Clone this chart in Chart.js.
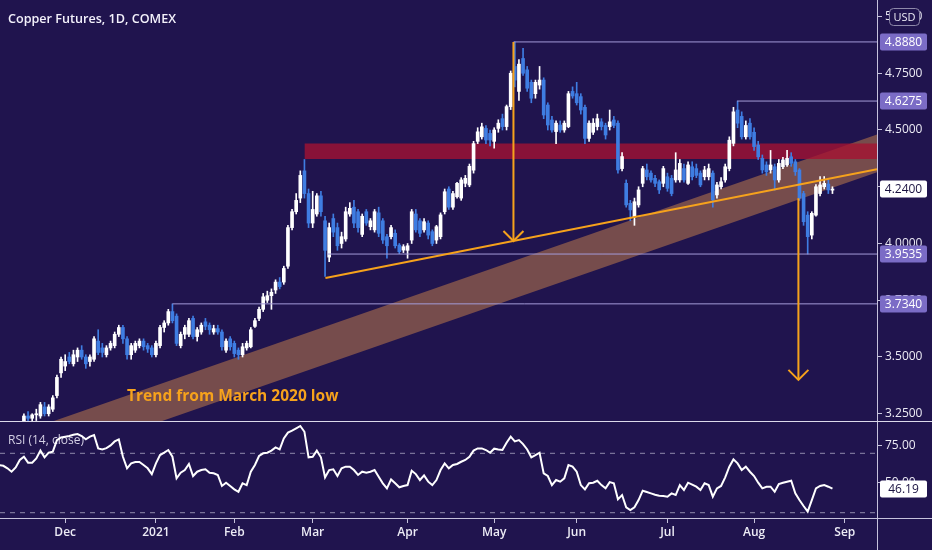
<!DOCTYPE html>
<html>
<head>
<meta charset="utf-8">
<title>Copper Futures, 1D, COMEX</title>
<script src="https://cdn.jsdelivr.net/npm/chart.js@4.4.1/dist/chart.umd.min.js"></script>
<style>
    html, body { margin: 0; padding: 0; background: #20144e; }
    #wrap { position: relative; width: 932px; height: 550px; overflow: hidden; background: #20144e; }
    canvas { position: absolute; left: 0; }
    #price { top: 0; }
    #rsi { top: 421px; }
</style>
</head>
<body>
<div id="wrap">
    <canvas id="price" width="932" height="421"></canvas>
    <canvas id="rsi" width="932" height="129"></canvas>
</div>
<script>
// ---- data ----------------------------------------------------------------

// COMEX holidays in the window (no bar on these days)
const holidays = ['2020-11-26', '2020-12-25', '2021-01-01', '2021-01-18',
    '2021-02-15', '2021-04-02', '2021-05-31', '2021-07-05'];
const monthNames = ['Jan', 'Feb', 'Mar', 'Apr', 'May', 'Jun', 'Jul', 'Aug', 'Sep', 'Oct', 'Nov', 'Dec'];

// daily bars, [open, high, low, close], first bar 2020-11-06
const ohlc = [
    // Nov 2020
    [3.13, 3.17, 3.11, 3.16], [3.16, 3.20, 3.14, 3.18], [3.18, 3.19, 3.13, 3.15], [3.15, 3.19, 3.14, 3.17],
    [3.17, 3.18, 3.12, 3.14], [3.14, 3.21, 3.13, 3.20], [3.20, 3.25, 3.19, 3.24], [3.24, 3.26, 3.21, 3.23],
    [3.23, 3.25, 3.21, 3.245], [3.245, 3.27, 3.22, 3.25], [3.24, 3.30, 3.23, 3.29], [3.28, 3.30, 3.24, 3.25],
    [3.25, 3.29, 3.24, 3.28], [3.27, 3.33, 3.26, 3.32], [3.33, 3.42, 3.32, 3.41], [3.43, 3.50, 3.41, 3.49],
    // Dec
    [3.46, 3.51, 3.44, 3.48], [3.50, 3.52, 3.47, 3.48], [3.47, 3.53, 3.46, 3.51], [3.50, 3.54, 3.48, 3.53],
    [3.53, 3.55, 3.49, 3.50], [3.50, 3.51, 3.45, 3.47], [3.48, 3.51, 3.46, 3.50], [3.49, 3.59, 3.48, 3.58],
    [3.57, 3.62, 3.51, 3.52], [3.54, 3.56, 3.50, 3.52], [3.51, 3.55, 3.50, 3.54], [3.54, 3.57, 3.53, 3.56],
    [3.55, 3.61, 3.54, 3.60], [3.60, 3.64, 3.59, 3.63], [3.63, 3.64, 3.56, 3.58], [3.58, 3.59, 3.49, 3.51],
    [3.51, 3.56, 3.49, 3.55], [3.53, 3.57, 3.52, 3.56], [3.55, 3.58, 3.54, 3.57], [3.57, 3.58, 3.53, 3.545],
    [3.55, 3.56, 3.52, 3.535], [3.54, 3.55, 3.50, 3.51],
    // Jan 2021
    [3.51, 3.57, 3.50, 3.56], [3.55, 3.64, 3.54, 3.63], [3.63, 3.66, 3.61, 3.65], [3.65, 3.71, 3.64, 3.70],
    [3.70, 3.734, 3.65, 3.66], [3.68, 3.69, 3.55, 3.56], [3.55, 3.61, 3.54, 3.60], [3.60, 3.64, 3.58, 3.63],
    [3.60, 3.67, 3.59, 3.66], [3.67, 3.68, 3.58, 3.59], [3.59, 3.63, 3.57, 3.62], [3.61, 3.65, 3.60, 3.64],
    [3.655, 3.67, 3.62, 3.635], [3.64, 3.65, 3.60, 3.62], [3.61, 3.64, 3.60, 3.625], [3.625, 3.64, 3.60, 3.61],
    [3.61, 3.62, 3.53, 3.545], [3.53, 3.58, 3.52, 3.57], [3.58, 3.59, 3.53, 3.545],
    // Feb
    [3.56, 3.57, 3.50, 3.515], [3.53, 3.54, 3.49, 3.51], [3.51, 3.56, 3.50, 3.545], [3.54, 3.57, 3.53, 3.56],
    [3.545, 3.63, 3.54, 3.62], [3.635, 3.67, 3.63, 3.66], [3.67, 3.72, 3.66, 3.71], [3.71, 3.78, 3.70, 3.765],
    [3.75, 3.79, 3.74, 3.77], [3.77, 3.80, 3.71, 3.785], [3.795, 3.84, 3.78, 3.83], [3.83, 3.85, 3.80, 3.81],
    [3.83, 3.90, 3.82, 3.89], [3.90, 4.08, 3.89, 4.07], [4.07, 4.15, 4.06, 4.14], [4.14, 4.22, 4.13, 4.19],
    [4.20, 4.32, 4.18, 4.30], [4.32, 4.37, 4.20, 4.22], [4.22, 4.24, 4.07, 4.09],
    // Mar
    [4.09, 4.23, 4.07, 4.15], [4.13, 4.22, 4.12, 4.21], [4.21, 4.23, 4.12, 4.14], [4.10, 4.12, 3.855, 3.97],
    [3.94, 4.09, 3.92, 4.07], [4.11, 4.13, 4.03, 4.05], [4.07, 4.09, 3.97, 3.99], [4.00, 4.05, 3.98, 4.03],
    [4.02, 4.16, 4.01, 4.14], [4.13, 4.18, 4.12, 4.155], [4.16, 4.19, 4.07, 4.09], [4.14, 4.15, 4.05, 4.07],
    [4.04, 4.13, 4.03, 4.12], [4.14, 4.15, 4.08, 4.09], [4.074, 4.11, 4.06, 4.10], [4.06, 4.15, 4.05, 4.14],
    [4.135, 4.16, 4.03, 4.045], [4.10, 4.11, 4.00, 4.015], [4.03, 4.04, 3.935, 3.99], [4.03, 4.08, 4.02, 4.07],
    [4.045, 4.06, 3.98, 3.99], [3.993, 4.00, 3.955, 3.964], [3.971, 3.995, 3.96, 3.986],
    // Apr
    [3.97, 4.00, 3.935, 3.99], [4.015, 4.15, 4.00, 4.14], [4.13, 4.15, 4.05, 4.06], [4.10, 4.11, 4.03, 4.045],
    [4.06, 4.11, 4.05, 4.096], [4.09, 4.10, 4.02, 4.037], [4.052, 4.06, 3.99, 4.00], [4.015, 4.08, 4.00, 4.074],
    [4.03, 4.135, 4.02, 4.126], [4.14, 4.24, 4.13, 4.228], [4.24, 4.25, 4.15, 4.16], [4.16, 4.23, 4.15, 4.22],
    [4.206, 4.27, 4.20, 4.265], [4.20, 4.29, 4.19, 4.28], [4.265, 4.30, 4.25, 4.287], [4.258, 4.35, 4.25, 4.34],
    [4.323, 4.45, 4.31, 4.44], [4.45, 4.51, 4.44, 4.492], [4.47, 4.53, 4.46, 4.514], [4.507, 4.52, 4.44, 4.456],
    [4.485, 4.50, 4.43, 4.456],
    // May
    [4.45, 4.51, 4.42, 4.50], [4.507, 4.545, 4.49, 4.53], [4.55, 4.57, 4.50, 4.515], [4.515, 4.61, 4.50, 4.603],
    [4.603, 4.76, 4.59, 4.75], [4.78, 4.888, 4.69, 4.72], [4.67, 4.81, 4.63, 4.79], [4.815, 4.86, 4.74, 4.75],
    [4.765, 4.78, 4.67, 4.684], [4.71, 4.72, 4.62, 4.64], [4.66, 4.72, 4.64, 4.71], [4.698, 4.78, 4.68, 4.72],
    [4.72, 4.73, 4.55, 4.566], [4.61, 4.62, 4.50, 4.522], [4.544, 4.56, 4.49, 4.50], [4.493, 4.54, 4.44, 4.53],
    [4.522, 4.54, 4.49, 4.50], [4.50, 4.54, 4.49, 4.53], [4.515, 4.67, 4.51, 4.66], [4.67, 4.69, 4.64, 4.65],
    // Jun
    [4.66, 4.71, 4.61, 4.62], [4.647, 4.66, 4.57, 4.588], [4.60, 4.61, 4.44, 4.463], [4.463, 4.54, 4.45, 4.53],
    [4.49, 4.55, 4.48, 4.53], [4.515, 4.57, 4.50, 4.55], [4.536, 4.55, 4.50, 4.515], [4.52, 4.53, 4.46, 4.478],
    [4.515, 4.588, 4.50, 4.536], [4.544, 4.56, 4.51, 4.52], [4.53, 4.54, 4.31, 4.324], [4.33, 4.40, 4.32, 4.383],
    [4.265, 4.28, 4.16, 4.17], [4.177, 4.19, 4.10, 4.148], [4.118, 4.20, 4.08, 4.184], [4.17, 4.25, 4.16, 4.236],
    [4.265, 4.34, 4.25, 4.33], [4.324, 4.35, 4.28, 4.294], [4.31, 4.32, 4.27, 4.28], [4.287, 4.30, 4.25, 4.265],
    [4.272, 4.28, 4.22, 4.236], [4.265, 4.34, 4.25, 4.33],
    // Jul
    [4.294, 4.31, 4.23, 4.243], [4.287, 4.30, 4.21, 4.22], [4.28, 4.40, 4.27, 4.324], [4.28, 4.37, 4.27, 4.353],
    [4.33, 4.35, 4.27, 4.28], [4.265, 4.36, 4.26, 4.346], [4.338, 4.36, 4.28, 4.294], [4.33, 4.35, 4.29, 4.30],
    [4.31, 4.32, 4.25, 4.258], [4.294, 4.34, 4.28, 4.324], [4.294, 4.35, 4.28, 4.33], [4.31, 4.32, 4.16, 4.192],
    [4.214, 4.27, 4.20, 4.258], [4.25, 4.29, 4.24, 4.272], [4.28, 4.35, 4.27, 4.338], [4.33, 4.47, 4.32, 4.455],
    [4.441, 4.60, 4.43, 4.58], [4.588, 4.6275, 4.51, 4.53], [4.56, 4.58, 4.46, 4.47], [4.47, 4.54, 4.46, 4.52],
    [4.53, 4.55, 4.46, 4.47],
    // Aug
    [4.49, 4.51, 4.41, 4.427], [4.434, 4.45, 4.37, 4.382], [4.375, 4.39, 4.31, 4.324], [4.346, 4.36, 4.30, 4.316],
    [4.324, 4.41, 4.31, 4.346], [4.338, 4.35, 4.235, 4.28], [4.28, 4.37, 4.27, 4.353], [4.338, 4.38, 4.33, 4.368],
    [4.346, 4.41, 4.34, 4.375], [4.382, 4.40, 4.34, 4.353], [4.36, 4.37, 4.30, 4.316], [4.324, 4.33, 4.19, 4.20],
    [4.22, 4.23, 4.08, 4.096], [4.125, 4.14, 3.9535, 4.03], [4.037, 4.14, 4.02, 4.133], [4.125, 4.26, 4.12, 4.25],
    [4.22, 4.295, 4.21, 4.258], [4.25, 4.295, 4.24, 4.265], [4.262, 4.28, 4.22, 4.236], [4.235, 4.25, 4.22, 4.24]
];

// RSI(14, close), one value per bar
const rsi14 = [
    62.1, 61.6, 59.9, 57.6, 60.5, 65.5, 67.7, 63.7, 63.7, 66.6, 71.8, 67.3, 70.4, 71.1, 78.9, 80.7,
    81.2, 81.6, 82.5, 83.0, 81.6, 79.4, 81.2, 82.3, 73.3, 72.6, 73.5, 75.3, 78.0, 79.4, 67.7, 59.9,
    63.2, 64.1, 64.1, 62.1, 59.9, 56.0,
    63.2, 68.8, 70.4, 72.2, 67.7, 53.1, 56.9, 58.7, 62.8, 54.7, 57.6, 58.7, 59.2, 56.9, 56.5, 55.4,
    48.0, 50.2, 48.0,
    45.7, 44.1, 49.8, 48.6, 57.6, 62.1, 68.2, 70.0, 70.4, 71.8, 74.0, 72.6, 80.0, 83.9, 85.2, 86.8,
    88.4, 84.5, 67.3,
    67.7, 71.8, 67.3, 53.8, 58.7, 59.2, 54.7, 59.9, 61.0, 61.0, 58.7, 55.4, 57.6, 56.9, 57.6, 58.7,
    54.2, 49.8, 46.4, 52.4, 49.8, 47.1, 48.0,
    48.6, 58.3, 56.0, 52.0, 55.1, 50.9, 48.6, 52.0, 58.7, 63.2, 59.9, 62.1, 62.8, 64.3, 65.5, 67.7,
    71.8, 73.3, 73.3, 72.2, 70.4,
    73.1, 72.6, 72.2, 77.1, 81.2, 78.0, 78.9, 76.2, 72.6, 67.3, 68.8, 70.4, 56.5, 54.7, 48.6, 52.0,
    50.9, 53.1, 62.1, 61.0,
    57.6, 48.6, 45.7, 49.8, 50.2, 51.5, 48.6, 46.4, 50.6, 49.8, 39.0, 41.9, 33.6, 31.8, 33.6, 38.5,
    44.8, 43.9, 43.0, 42.1, 41.4, 41.2,
    40.8, 43.0, 41.9, 48.6, 45.3, 50.2, 48.9, 47.5, 45.3, 49.8, 48.6, 40.8, 46.4, 48.0, 53.8, 61.0,
    65.9, 63.2, 58.7, 61.0, 57.6,
    54.7, 50.2, 46.4, 47.5, 47.5, 44.1, 49.3, 50.2, 50.9, 51.5, 43.0, 38.5, 34.5, 30.7, 38.5, 46.4,
    48.0, 48.6, 47.5, 46.19
];

// price axis ticks and RSI axis ticks
const priceTicks = [3.25, 3.5, 3.75, 4.0, 4.25, 4.5, 4.75, 5.0];
const rsiTicks = [50, 75];
const rsiBands = [70, 30];

// drawings: horizontal levels (value, bar where the ray starts)
const levelValues = [4.888, 4.6275, 3.9535, 3.734];
const levelFrom = [124.7, 178.9, 79.5, 42];

// rising support from the March low
const trendX = [79.1, 212.8];
const trendY = [3.848, 4.327];

// long-term channel "Trend from March 2020 low"
const bandX = [0, 212.8];
const bandUpper = [3.134, 4.480];
const bandLower = [2.968, 4.314];

// resistance zone
const zoneX = [74, 212.8];
const zoneTop = 4.441;
const zoneBottom = 4.372;

// measured-move arrows
const arrowX = [124.67, 193.75];
const arrowFrom = [4.888, 4.199];
const arrowTo = [4.011, 3.399];

// ---- calendar ------------------------------------------------------------

const tradingDays = [];
for (let t = Date.UTC(2020, 10, 6); t <= Date.UTC(2021, 8, 3); t += 86400000) {
    const d = new Date(t);
    const iso = d.toISOString().slice(0, 10);
    const wd = d.getUTCDay();
    if (wd !== 0 && wd !== 6 && !holidays.includes(iso)) tradingDays.push(iso);
}

const monthTicks = [];
tradingDays.forEach((iso, i) => {
    if (i > 0 && iso.slice(5, 7) !== tradingDays[i - 1].slice(5, 7)) {
        const m = +iso.slice(5, 7) - 1;
        monthTicks.push({ value: i, label: m === 0 ? iso.slice(0, 4) : monthNames[m] });
    }
});

// ---- style ---------------------------------------------------------------

const BG = '#20144e';
const AXIS = '#c6c2dc';
const TEXT = '#ecebf5';
const UP = '#ffffff';
const DOWN = '#3f7de2';
const ORANGE = '#f6a21c';
const LEVEL = '#a49bd8';
const LEVEL_BOX = '#7b6cc6';
const FONT = "'Open Sans', sans-serif";
const X_MIN = 0.2;
const X_MAX = 212.8;
const AXIS_W = 55;

Chart.defaults.font.family = FONT;
Chart.defaults.color = TEXT;

const seg = (x0, y0, x1, y1) => [{ x: x0, y: y0 }, { x: x1, y: y1 }];
const candleColor = ctx => {
    const c = ohlc[ctx.dataIndex];
    return c && c[3] >= c[0] ? UP : DOWN;
};
const lineSet = (data, color, width, order, extra) => Object.assign({
    type: 'line', data, borderColor: color, borderWidth: width,
    pointRadius: 0, fill: false, tension: 0, order
}, extra || {});

function roundBox(ctx, x, y, w, h, r) {
    ctx.beginPath();
    ctx.moveTo(x + r, y);
    ctx.lineTo(x + w - r, y);
    ctx.quadraticCurveTo(x + w, y, x + w, y + r);
    ctx.lineTo(x + w, y + h - r);
    ctx.quadraticCurveTo(x + w, y + h, x + w - r, y + h);
    ctx.lineTo(x + r, y + h);
    ctx.quadraticCurveTo(x, y + h, x, y + h - r);
    ctx.lineTo(x, y + r);
    ctx.quadraticCurveTo(x, y, x + r, y);
    ctx.closePath();
}

function axisLabel(chart, value, text, bg, fg) {
    const ctx = chart.ctx;
    const yScale = chart.scales.y;
    const yc = Math.round(yScale.getPixelForValue(value));
    const x0 = chart.chartArea.right + 3;
    ctx.save();
    ctx.fillStyle = bg;
    roundBox(ctx, x0, yc - 8.5, 47, 17, 2);
    ctx.fill();
    ctx.fillStyle = fg;
    ctx.font = '12px ' + FONT;
    ctx.textAlign = 'center';
    ctx.textBaseline = 'middle';
    ctx.fillText(text, x0 + 23.5, yc + 0.5);
    ctx.restore();
}

const background = {
    id: 'background',
    beforeDraw(chart) {
        const ctx = chart.ctx;
        ctx.save();
        ctx.fillStyle = BG;
        ctx.fillRect(0, 0, chart.width, chart.height);
        ctx.restore();
    }
};

// ---- price pane ----------------------------------------------------------

const pricePlugin = {
    id: 'priceExtras',
    afterDatasetsDraw(chart) {
        const { ctx, scales: { x, y } } = chart;
        ctx.save();
        // arrow heads
        ctx.strokeStyle = ORANGE;
        ctx.lineWidth = 2;
        arrowX.forEach((xv, k) => {
            const px = x.getPixelForValue(xv);
            const py = y.getPixelForValue(arrowTo[k]);
            ctx.beginPath();
            ctx.moveTo(px - 10, py - 10);
            ctx.lineTo(px, py);
            ctx.lineTo(px + 10, py - 10);
            ctx.stroke();
        });
        // channel caption
        ctx.fillStyle = ORANGE;
        ctx.font = 'bold 15.5px ' + FONT;
        ctx.textBaseline = 'middle';
        ctx.fillText('Trend from March 2020 low', x.getPixelForValue(31), y.getPixelForValue(3.326));
        // title
        ctx.fillStyle = '#f3f1fb';
        ctx.font = '600 12.6px ' + FONT;
        ctx.fillText('Copper Futures, 1D, COMEX', 8, 19);
        ctx.restore();
    },
    afterDraw(chart) {
        const ctx = chart.ctx;
        levelValues.forEach(v => axisLabel(chart, v, v.toFixed(4), LEVEL_BOX, '#ffffff'));
        const last = ohlc[ohlc.length - 1][3];
        axisLabel(chart, last, last.toFixed(4), '#ffffff', '#1a1240');
        // currency badge
        ctx.save();
        ctx.fillStyle = BG;
        ctx.strokeStyle = '#8e89aa';
        ctx.lineWidth = 1;
        roundBox(ctx, 889.5, 8.5, 30, 17, 4);
        ctx.fill();
        ctx.stroke();
        ctx.fillStyle = TEXT;
        ctx.font = '11px ' + FONT;
        ctx.textAlign = 'center';
        ctx.textBaseline = 'middle';
        ctx.fillText('USD', 904.5, 17.5);
        ctx.restore();
    }
};

new Chart(document.getElementById('price'), {
    type: 'bar',
    data: {
        datasets: [
            lineSet(seg(bandX[0], bandUpper[0], bandX[1], bandUpper[1]), 'rgba(0,0,0,0)', 0, 60),
            lineSet(seg(bandX[0], bandLower[0], bandX[1], bandLower[1]), 'rgba(0,0,0,0)', 0, 60,
                { fill: '-1', backgroundColor: 'rgba(190, 122, 74, 0.55)' }),
            lineSet(seg(zoneX[0], zoneTop, zoneX[1], zoneTop), 'rgba(0,0,0,0)', 0, 50),
            lineSet(seg(zoneX[0], zoneBottom, zoneX[1], zoneBottom), 'rgba(0,0,0,0)', 0, 50,
                { fill: '-1', backgroundColor: 'rgba(165, 18, 50, 0.78)' }),
            {
                type: 'bar', label: 'wicks', order: 30, grouped: false, barThickness: 1,
                data: ohlc.map((c, i) => ({ x: i, y: [c[2], c[1]] })),
                backgroundColor: candleColor
            },
            {
                type: 'bar', label: 'bodies', order: 29, grouped: false, barThickness: 3, minBarLength: 1,
                data: ohlc.map((c, i) => ({ x: i, y: [c[0], c[3]] })),
                backgroundColor: candleColor
            },
            ...levelValues.map((v, k) => lineSet(seg(levelFrom[k], v, X_MAX, v), LEVEL, 1, 20)),
            lineSet(seg(trendX[0], trendY[0], trendX[1], trendY[1]), ORANGE, 2, 10),
            ...arrowX.map((xv, k) => lineSet(seg(xv, arrowFrom[k], xv, arrowTo[k]), ORANGE, 2, 5))
        ]
    },
    options: {
        responsive: false,
        animation: false,
        events: [],
        layout: { padding: 0 },
        plugins: { legend: { display: false }, tooltip: { enabled: false } },
        scales: {
            x: { type: 'linear', min: X_MIN, max: X_MAX, offset: false, display: false },
            y: {
                type: 'linear', position: 'right', min: 3.218, max: 5.0727,
                afterBuildTicks: s => { s.ticks = priceTicks.map(v => ({ value: v })); },
                afterFit: s => { s.width = AXIS_W; s.paddingTop = 0; s.paddingBottom = 0; },
                ticks: { color: TEXT, font: { size: 12 }, padding: 3, autoSkip: false, callback: v => v.toFixed(4) },
                grid: { drawOnChartArea: false, drawTicks: true, tickLength: 5, color: AXIS },
                border: { display: true, color: AXIS }
            }
        }
    },
    plugins: [background, pricePlugin]
});

// ---- RSI pane ------------------------------------------------------------

const rsiPlugin = {
    id: 'rsiExtras',
    beforeDatasetsDraw(chart) {
        const ctx = chart.ctx;
        ctx.save();
        ctx.fillStyle = '#d3cfe4';
        ctx.font = '12px ' + FONT;
        ctx.textBaseline = 'middle';
        ctx.fillText('RSI (14, close)', 8, 20);
        ctx.restore();
    },
    afterDraw(chart) {
        const { ctx, chartArea } = chart;
        ctx.save();
        ctx.fillStyle = '#dcd9ea';
        ctx.fillRect(0, 0, chart.width, 1);
        ctx.fillStyle = AXIS;
        ctx.fillRect(chartArea.right, chartArea.bottom, chart.width - chartArea.right, 1);
        ctx.fillRect(chartArea.right, chartArea.bottom, 1, chart.height - chartArea.bottom);
        ctx.restore();
        const last = rsi14[rsi14.length - 1];
        axisLabel(chart, last, last.toFixed(2), '#ffffff', '#1a1240');
    }
};

new Chart(document.getElementById('rsi'), {
    type: 'line',
    data: {
        datasets: [
            lineSet(rsi14.map((v, i) => ({ x: i, y: v })), '#ffffff', 2, 1),
            ...rsiBands.map(v => lineSet(seg(X_MIN, v, X_MAX, v), '#8f8aac', 1, 5, { borderDash: [5, 5] }))
        ]
    },
    options: {
        responsive: false,
        animation: false,
        events: [],
        layout: { padding: 0 },
        plugins: { legend: { display: false }, tooltip: { enabled: false } },
        scales: {
            x: {
                type: 'linear', min: X_MIN, max: X_MAX, offset: false, position: 'bottom',
                afterBuildTicks: s => { s.ticks = monthTicks.map(t => ({ value: t.value })); },
                afterFit: s => { s.height = 32; s.paddingLeft = 0; s.paddingRight = 0; },
                ticks: {
                    color: TEXT, font: { size: 12, weight: '600' }, padding: 2, maxRotation: 0, autoSkip: false,
                    callback: (v, i) => monthTicks[i] ? monthTicks[i].label : ''
                },
                grid: { drawOnChartArea: false, drawTicks: true, tickLength: 5, color: AXIS },
                border: { display: true, color: AXIS }
            },
            y: {
                type: 'linear', position: 'right', min: 26.43, max: 91.75,
                afterBuildTicks: s => { s.ticks = rsiTicks.map(v => ({ value: v })); },
                afterFit: s => { s.width = AXIS_W; s.paddingTop = 0; s.paddingBottom = 0; },
                ticks: { color: TEXT, font: { size: 12 }, padding: 3, autoSkip: false, callback: v => v.toFixed(2) },
                grid: { drawOnChartArea: false, drawTicks: true, tickLength: 5, color: AXIS },
                border: { display: true, color: AXIS }
            }
        }
    },
    plugins: [background, rsiPlugin]
});
</script>
</body>
</html>
